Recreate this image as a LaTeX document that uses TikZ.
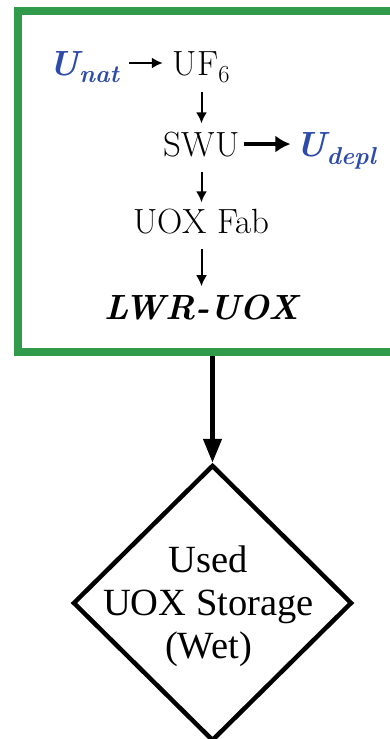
\documentclass[tikz,border=0pt]{standalone}
\usepackage{fontspec}
\setmainfont{Liberation Serif}
\newfontfamily\cyclefont{Latin Modern Roman}
\usetikzlibrary{positioning,shapes.geometric,arrows.meta}
\definecolor{framegreen}{RGB}{50,155,75}
\definecolor{uranium}{RGB}{45,75,170}
\tikzset{
  stage/.style={font=\cyclefont\fontsize{35}{40}\selectfont, inner sep=3pt},
  feed/.style={font=\cyclefont\fontsize{35}{40}\selectfont\bfseries\itshape, text=uranium, inner sep=3pt},
  thinflow/.style={line width=2pt, -{Latex[length=11pt,width=11pt]}},
  boldflow/.style={line width=4pt, -{Latex[length=15pt,width=17pt]}},
  flow/.style={line width=4.5pt, -{Triangle[length=24pt,width=18pt]}},
  storagebox/.style={draw, diamond, line width=4.5pt, minimum width=279pt, minimum height=276pt, inner sep=0pt},
  storagelabel/.style={align=center, font=\rmfamily\fontsize{38.5}{43}\selectfont},
}

\begin{document}
\begin{tikzpicture}[x=1pt,y=1pt]
\clip (0,0) rectangle (390,-739);
\fill[white] (0,0) rectangle (390,-739);

% front end of the cycle
\node (frame) [draw=framegreen, line width=8pt, minimum width=384pt, minimum height=341pt, inner sep=0pt] at (210,-181.5) {};

\node (uf6) [stage, anchor=base] at (201.5,-75) {UF\textsubscript{6}};
\node (swu) [stage, below=81pt of uf6.base, anchor=base] {SWU};
\node (uoxfab) [stage, below=77pt of swu.base, anchor=base] {UOX Fab};
\node (lwr) [stage, below=86pt of uoxfab.base, anchor=base] {\bfseries\itshape LWR-UOX};
\node (unat) [feed, left=47pt of uf6.base west, anchor=base east] {U\textsubscript{nat}};
\node (udepl) [feed, right=50pt of swu.base east, anchor=base west] {U\textsubscript{depl}};

\draw[thinflow, shorten <=6pt, shorten >=7pt] ([yshift=12pt]unat.base east) -- ([yshift=12pt]uf6.base west);
\draw[thinflow, shorten <=6pt, shorten >=5pt] (uf6) -- (swu);
\draw[boldflow, shorten <=2pt, shorten >=2pt] (swu.east) -- (swu.east -| udepl.west);
\draw[thinflow, shorten <=12pt, shorten >=3pt] (swu) -- (uoxfab);
\draw[thinflow, shorten <=12pt, shorten >=5pt] (uoxfab) -- (lwr);

% storage
\node (storage) [storagebox] at (212.5,-603) {};
\node (storagetext) [storagelabel] at ([xshift=-4pt,yshift=-3pt]storage.center) {Used\\UOX Storage\\(Wet)};

\draw[flow] (frame.south -| storage.north) -- (storage.north);
\end{tikzpicture}
\end{document}
